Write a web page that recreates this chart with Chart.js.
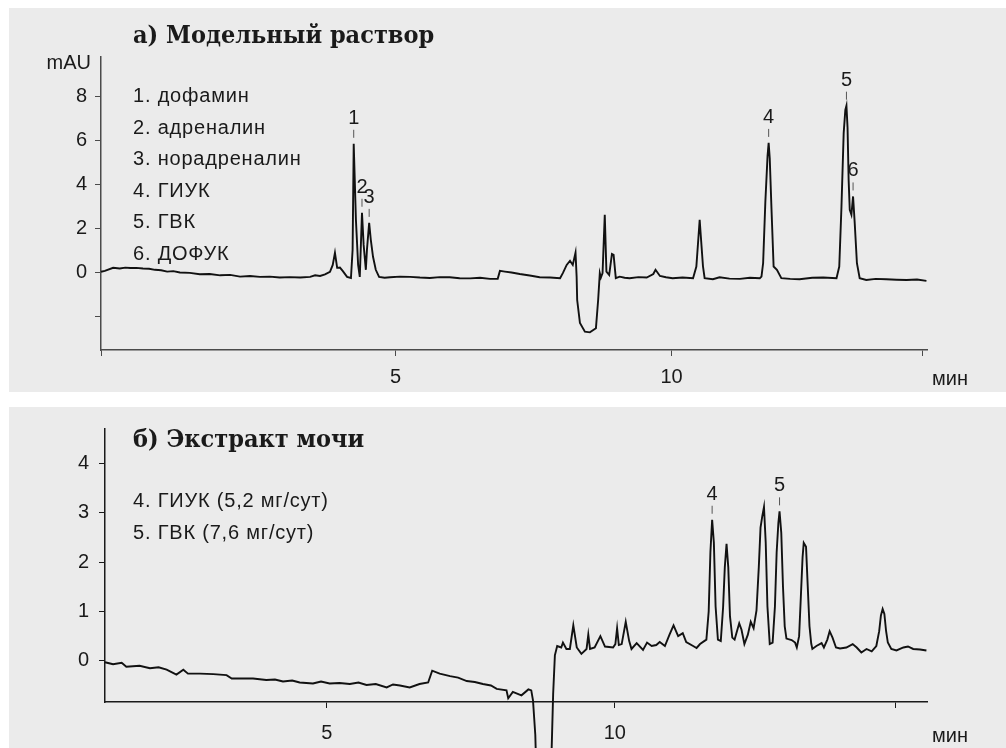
<!DOCTYPE html>
<html>
<head>
<meta charset="utf-8">
<script src="https://cdn.jsdelivr.net/npm/chart.js@4.4.0/dist/chart.umd.min.js"></script>
<style>
  body { margin: 0; background: #fff; width: 1006px; height: 748px; overflow: hidden; position: relative; }
  .panel { position: absolute; left: 9px; width: 997px; background: #ebebeb; }
  #pa { top: 8px; height: 384px; }
  #pb { top: 407px; height: 341px; }
</style>
</head>
<body>
<div class="panel" id="pa"><canvas id="chart-a" width="997" height="384"></canvas></div>
<div class="panel" id="pb"><canvas id="chart-b" width="997" height="341"></canvas></div>
<script>
// ---- a) model solution ----
const timeA = [-0.34, -0.27, -0.12, 0.00, 0.10, 0.19, 0.30, 0.42, 0.53, 0.64, 0.75, 0.86, 0.97, 1.09, 1.27, 1.45, 1.63, 1.82, 2.00, 2.18, 2.36, 2.54, 2.72, 2.90, 3.08, 3.27, 3.45, 3.54, 3.63, 3.72, 3.81, 3.86, 3.90, 3.94, 3.99, 4.04, 4.12, 4.19, 4.22, 4.24, 4.28, 4.32, 4.35, 4.37, 4.39, 4.42, 4.46, 4.48, 4.52, 4.55, 4.59, 4.64, 4.70, 4.80, 4.90, 5.08, 5.26, 5.44, 5.62, 5.80, 5.98, 6.16, 6.35, 6.53, 6.71, 6.85, 6.89, 6.98, 7.10, 7.25, 7.43, 7.61, 7.80, 7.98, 8.03, 8.10, 8.16, 8.21, 8.26, 8.28, 8.29, 8.34, 8.43, 8.52, 8.63, 8.67, 8.70, 8.72, 8.75, 8.79, 8.82, 8.87, 8.92, 8.95, 8.99, 9.06, 9.15, 9.24, 9.40, 9.55, 9.67, 9.71, 9.79, 9.90, 10.02, 10.20, 10.39, 10.45, 10.49, 10.51, 10.53, 10.57, 10.60, 10.75, 10.87, 11.05, 11.24, 11.42, 11.60, 11.63, 11.66, 11.70, 11.74, 11.76, 11.78, 11.81, 11.85, 11.91, 11.99, 12.15, 12.32, 12.55, 12.75, 12.99, 13.04, 13.08, 13.12, 13.15, 13.17, 13.19, 13.21, 13.23, 13.26, 13.29, 13.32, 13.36, 13.41, 13.53, 13.70, 13.89, 14.08, 14.26, 14.45, 14.62];
const signalA = [0.05, 0.09, 0.23, 0.20, 0.24, 0.22, 0.23, 0.20, 0.19, 0.14, 0.12, 0.06, 0.08, 0.02, 0.00, -0.06, -0.05, -0.11, -0.09, -0.17, -0.14, -0.18, -0.17, -0.21, -0.19, -0.21, -0.18, -0.11, -0.14, -0.07, 0.05, 0.36, 0.91, 0.23, 0.24, 0.09, -0.18, -0.23, 1.05, 5.86, 2.41, 0.36, -0.18, 1.27, 2.73, 1.27, 0.14, 1.05, 2.27, 1.50, 0.73, 0.14, -0.18, -0.22, -0.20, -0.17, -0.18, -0.21, -0.23, -0.19, -0.20, -0.24, -0.25, -0.22, -0.27, -0.27, 0.09, 0.06, 0.02, -0.05, -0.12, -0.20, -0.21, -0.24, -0.01, 0.36, 0.55, 0.36, 0.92, -0.17, -1.23, -2.27, -2.67, -2.70, -2.51, -1.23, -0.01, -0.21, -0.01, 2.64, 0.06, -0.09, 0.86, 0.82, -0.24, -0.17, -0.22, -0.24, -0.19, -0.21, -0.05, 0.14, -0.14, -0.20, -0.24, -0.21, -0.24, 0.29, 1.70, 2.41, 1.70, 0.30, -0.24, -0.29, -0.20, -0.26, -0.27, -0.22, -0.24, -0.17, 0.44, 3.20, 5.30, 5.90, 5.20, 3.01, 0.29, 0.14, -0.24, -0.27, -0.29, -0.22, -0.21, -0.24, 0.29, 3.01, 6.35, 7.40, 7.59, 6.60, 4.20, 2.86, 2.64, 3.47, 2.26, 0.44, -0.24, -0.32, -0.27, -0.29, -0.31, -0.32, -0.30, -0.36];
const compoundsA = ["дофамин", "адреналин", "норадреналин", "ГИУК", "ГВК", "ДОФУК"];
const peakIdsA = ["1", "2", "3", "4", "5", "6"];
const peakTimesA = [4.24, 4.39, 4.52, 11.76, 13.17, 13.29];
const peakHeightsA = [5.86, 2.73, 2.27, 5.90, 7.59, 3.47];
const yTicksA = [-2, 0, 2, 4, 6, 8];
const yTickLabelsA = ["", "0", "2", "4", "6", "8"];
const xTicksA = [-0.34, 5, 10, 14.55];
const xTickLabelsA = ["", "5", "10", ""];

// ---- б) urine extract ----
const timeB = [1.15, 1.29, 1.44, 1.52, 1.75, 1.93, 2.08, 2.22, 2.39, 2.51, 2.59, 2.80, 3.03, 3.26, 3.35, 3.49, 3.72, 3.95, 4.10, 4.24, 4.40, 4.53, 4.76, 4.90, 5.05, 5.22, 5.40, 5.55, 5.69, 5.85, 6.04, 6.15, 6.27, 6.44, 6.61, 6.76, 6.83, 6.96, 7.14, 7.28, 7.43, 7.57, 7.71, 7.85, 7.95, 8.12, 8.15, 8.23, 8.38, 8.50, 8.55, 8.58, 8.62, 8.66, 8.85, 8.90, 8.93, 8.96, 9.00, 9.07, 9.10, 9.16, 9.22, 9.28, 9.34, 9.42, 9.51, 9.54, 9.57, 9.65, 9.75, 9.83, 9.97, 10.01, 10.04, 10.07, 10.12, 10.19, 10.25, 10.29, 10.38, 10.49, 10.56, 10.64, 10.72, 10.78, 10.87, 10.95, 11.02, 11.10, 11.18, 11.24, 11.36, 11.42, 11.48, 11.59, 11.63, 11.66, 11.69, 11.72, 11.75, 11.79, 11.84, 11.88, 11.91, 11.94, 11.97, 12.00, 12.04, 12.08, 12.16, 12.20, 12.25, 12.31, 12.36, 12.41, 12.46, 12.50, 12.53, 12.56, 12.59, 12.62, 12.65, 12.69, 12.74, 12.78, 12.81, 12.84, 12.86, 12.89, 12.92, 12.95, 12.98, 13.07, 13.13, 13.16, 13.20, 13.23, 13.26, 13.28, 13.32, 13.35, 13.38, 13.41, 13.43, 13.50, 13.59, 13.63, 13.69, 13.73, 13.78, 13.84, 13.91, 14.02, 14.13, 14.20, 14.28, 14.37, 14.46, 14.54, 14.59, 14.62, 14.65, 14.68, 14.71, 14.74, 14.80, 14.89, 15.01, 15.09, 15.18, 15.30, 15.41];
const signalB = [-0.03, -0.07, -0.04, -0.12, -0.10, -0.15, -0.13, -0.18, -0.28, -0.18, -0.26, -0.26, -0.27, -0.29, -0.36, -0.36, -0.36, -0.39, -0.38, -0.42, -0.40, -0.44, -0.46, -0.42, -0.46, -0.45, -0.47, -0.44, -0.49, -0.47, -0.54, -0.48, -0.50, -0.54, -0.47, -0.44, -0.20, -0.26, -0.31, -0.34, -0.41, -0.43, -0.47, -0.50, -0.57, -0.60, -0.76, -0.63, -0.70, -0.58, -0.60, -0.80, -1.50, -3.20, -3.20, -1.96, -0.67, 0.11, 0.30, 0.27, 0.37, 0.24, 0.24, 0.72, 0.27, 0.14, 0.24, 0.53, 0.24, 0.27, 0.50, 0.29, 0.27, 0.34, 0.66, 0.32, 0.34, 0.79, 0.40, 0.24, 0.36, 0.22, 0.37, 0.30, 0.32, 0.38, 0.30, 0.53, 0.72, 0.50, 0.56, 0.38, 0.30, 0.26, 0.34, 0.43, 1.00, 2.20, 2.86, 2.40, 1.10, 0.43, 0.40, 1.08, 1.90, 2.37, 1.90, 0.90, 0.47, 0.43, 0.76, 0.63, 0.34, 0.53, 0.79, 0.66, 1.02, 1.90, 2.70, 2.93, 3.12, 2.40, 1.10, 0.34, 0.37, 1.10, 2.20, 2.80, 3.03, 2.60, 1.50, 0.70, 0.45, 0.42, 0.37, 0.27, 0.50, 1.30, 2.10, 2.39, 2.31, 1.50, 0.70, 0.35, 0.24, 0.30, 0.36, 0.27, 0.43, 0.60, 0.47, 0.27, 0.25, 0.27, 0.34, 0.27, 0.17, 0.24, 0.19, 0.30, 0.60, 0.92, 1.05, 0.95, 0.60, 0.37, 0.24, 0.21, 0.27, 0.29, 0.24, 0.23, 0.21];
const compoundIdsB = ["4", "5"];
const compoundsB = ["ГИУК", "ГВК"];
const dosesB = ["5,2 мг/сут", "7,6 мг/сут"];
const peakIdsB = ["4", "5"];
const peakTimesB = [11.69, 12.86];
const peakHeightsB = [2.86, 3.03];
const yTicksB = [0, 1, 2, 3, 4];
const yTickLabelsB = ["0", "1", "2", "3", "4"];
const xTicksB = [5, 10, 14.88];
const xTickLabelsB = ["5", "10", ""];

const SANS = '"Liberation Sans", Arial, sans-serif';
const INK = "#1a1a1a";
Chart.defaults.font.family = SANS;
Chart.defaults.font.size = 20;
Chart.defaults.color = INK;

// text drawn on top of each chart: title, legend, peak labels, units
function annotations(cfg) {
  return {
    id: "annot",
    afterDraw(chart) {
      const ctx = chart.ctx;
      const xs = chart.scales.x;
      const ys = chart.scales.y;
      ctx.save();
      ctx.fillStyle = INK;
      ctx.textAlign = "left";
      ctx.textBaseline = "alphabetic";
      ctx.font = 'bold 25px "DejaVu Serif Condensed", "DejaVu Serif", serif';
      ctx.fillText(cfg.title, 124, cfg.titleY);

      ctx.font = "20px " + SANS;
      ctx.letterSpacing = "0.8px";
      cfg.legend.forEach((s, i) => ctx.fillText(s, 124, cfg.legendY + i * 31.6));
      ctx.letterSpacing = "0px";

      ctx.fillText("мин", 923, cfg.unitY);
      if (cfg.yUnit) {
        ctx.textAlign = "right";
        ctx.fillText(cfg.yUnit, 82, 61);
      }

      // peak numbers with small dash marks
      ctx.textAlign = "center";
      ctx.strokeStyle = "#555";
      ctx.lineWidth = 1;
      cfg.peakIds.forEach((id, i) => {
        const px = xs.getPixelForValue(cfg.peakTimes[i]);
        const py = ys.getPixelForValue(cfg.peakHeights[i]);
        ctx.fillText(id, px, py - 20);
        ctx.beginPath();
        ctx.moveTo(px, py - 14);
        ctx.lineTo(px, py - 6);
        ctx.stroke();
      });
      ctx.restore();
    },
  };
}

function makeChart(canvasId, t, v, sc, annot) {
  return new Chart(document.getElementById(canvasId), {
    type: "line",
    data: {
      datasets: [
        {
          data: t.map((x, i) => ({ x: x, y: v[i] })),
          borderColor: "#111",
          borderWidth: 1.9,
          pointRadius: 0,
          tension: 0,
          clip: false,
        },
      ],
    },
    options: {
      responsive: false,
      animation: false,
      layout: { padding: sc.padding },
      plugins: { legend: { display: false }, tooltip: { enabled: false } },
      scales: {
        x: {
          type: "linear",
          min: sc.xMin,
          max: sc.xMax,
          afterBuildTicks: (s) => { s.ticks = sc.xTicks.map((val) => ({ value: val })); },
          afterFit: (s) => { s.height = 40; },
          ticks: {
            autoSkip: false,
            maxRotation: 0,
            padding: sc.xPad,
            callback: (val) => sc.xLabels[sc.xTicks.indexOf(val)],
          },
          grid: { drawOnChartArea: false, drawTicks: true, tickLength: 6, color: sc.axis, lineWidth: 1 },
          border: { display: true, color: sc.axis, width: 1.5 },
        },
        y: {
          min: sc.yMin,
          max: sc.yMax,
          afterBuildTicks: (s) => { s.ticks = sc.yTicks.map((val) => ({ value: val })); },
          afterFit: (s) => { s.width = 40; },
          ticks: {
            padding: sc.yPad,
            callback: (val) => sc.yLabels[sc.yTicks.indexOf(val)],
          },
          grid: { drawOnChartArea: false, drawTicks: true, tickLength: 6, color: sc.axis, lineWidth: 1 },
          border: { display: true, color: sc.axis, width: 1.5 },
        },
      },
    },
    plugins: [annotations(annot)],
  });
}

makeChart("chart-a", timeA, signalA, {
  padding: { left: 52, top: 49, right: 79, bottom: 2 },
  xMin: -0.34, xMax: 14.63, yMin: -3.5, yMax: 9.8,
  xTicks: xTicksA, xLabels: xTickLabelsA, yTicks: yTicksA, yLabels: yTickLabelsA,
  xPad: 9, yPad: 8, axis: "#4a4a4a",
}, {
  title: "а) Модельный раствор", titleY: 35,
  legend: compoundsA.map((n, i) => (i + 1) + ". " + n), legendY: 94,
  unitY: 377, yUnit: "mAU",
  peakIds: peakIdsA, peakTimes: peakTimesA, peakHeights: peakHeightsA,
});

makeChart("chart-b", timeB, signalB, {
  padding: { left: 56, top: 10, right: 79, bottom: 6 },
  xMin: 1.15, xMax: 15.42, yMin: -0.835, yMax: 4.7,
  xTicks: xTicksB, xLabels: xTickLabelsB, yTicks: yTicksB, yLabels: yTickLabelsB,
  xPad: 13, yPad: 10, axis: "#1a1a1a",
}, {
  title: "б) Экстракт мочи", titleY: 40,
  legend: compoundIdsB.map((id, i) => id + ". " + compoundsB[i] + " (" + dosesB[i] + ")"), legendY: 100,
  unitY: 335, yUnit: null,
  peakIds: peakIdsB, peakTimes: peakTimesB, peakHeights: peakHeightsB,
});
</script>
</body>
</html>
